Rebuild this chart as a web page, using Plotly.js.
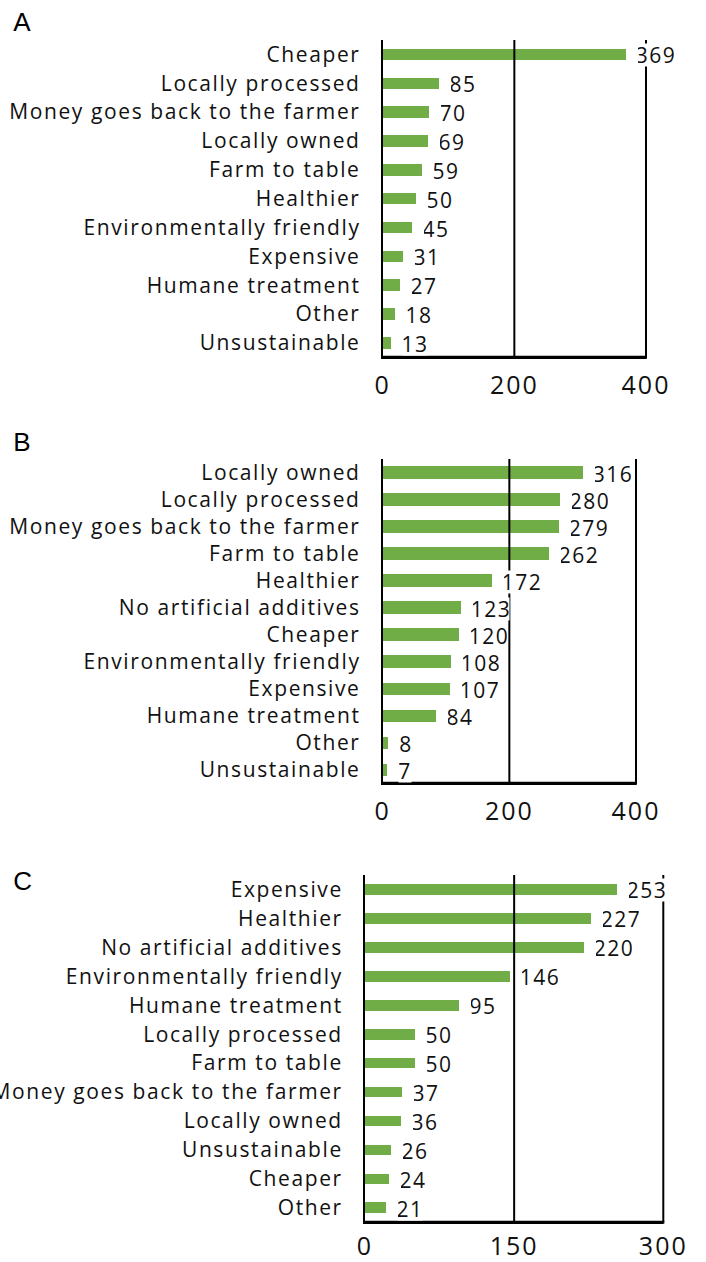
<!DOCTYPE html>
<html>
<head>
<meta charset="utf-8">
<script src="https://cdn.plot.ly/plotly-3.0.1.min.js"></script>
<style>
  html, body { margin: 0; padding: 0; background: #fff; }
  #chart { width: 706px; height: 1262px; }
  #chart .ytick text, #chart .y2tick text, #chart .y3tick text { letter-spacing: 1.6px; }
  #chart .xtick text, #chart .x2tick text, #chart .x3tick text { letter-spacing: 2px; }
  #chart .annotation-text { letter-spacing: 1.5px; }
</style>
</head>
<body>
<div id="chart"></div>
<script>
// ---- Data ----
const catsA = ["Cheaper", "Locally processed", "Money goes back to the farmer", "Locally owned", "Farm to table", "Healthier", "Environmentally friendly", "Expensive", "Humane treatment", "Other", "Unsustainable"];
const valsA = [369, 85, 70, 69, 59, 50, 45, 31, 27, 18, 13];

const catsB = ["Locally owned", "Locally processed", "Money goes back to the farmer", "Farm to table", "Healthier", "No artificial additives", "Cheaper", "Environmentally friendly", "Expensive", "Humane treatment", "Other", "Unsustainable"];
const valsB = [316, 280, 279, 262, 172, 123, 120, 108, 107, 84, 8, 7];

const catsC = ["Expensive", "Healthier", "No artificial additives", "Environmentally friendly", "Humane treatment", "Locally processed", "Farm to table", "Money goes back to the farmer", "Locally owned", "Unsustainable", "Cheaper", "Other"];
const valsC = [253, 227, 220, 146, 95, 50, 50, 37, 36, 26, 24, 21];

const ticksA = [0, 200, 400];
const ticksB = [0, 200, 400];
const ticksC = [0, 150, 300];

const panelLetters = ["A", "B", "C"];

// ---- Layout geometry (pixels on a 706x1262 page) ----
const W = 706, H = 1262;
const panels = [
  { cats: catsA, vals: valsA, ticks: ticksA, x0: 382.7, x1: 646.0, top: 40.0, bottom: 357.3, bw: 0.40, letterY: 12, tl: 5 },
  { cats: catsB, vals: valsB, ticks: ticksB, x0: 382.7, x1: 636.0, top: 459.0, bottom: 783.3, bw: 0.46, letterY: 432, tl: 5 },
  { cats: catsC, vals: valsC, ticks: ticksC, x0: 365.0, x1: 663.3, top: 875.0, bottom: 1222.3, bw: 0.37, letterY: 871, tl: 1 }
];

const GREEN = "#70AD47";
const FONT = "Open Sans, Lato, sans-serif";

const data = [];
const layout = {
  width: W, height: H,
  margin: { l: 0, r: 0, t: 0, b: 0 },
  paper_bgcolor: "#fff", plot_bgcolor: "#fff",
  showlegend: false,
  bargap: 0,
  annotations: [],
  shapes: [],
  font: { family: FONT, color: "#111" }
};

panels.forEach((p, i) => {
  const n = i + 1;
  const xa = n === 1 ? "x" : "x" + n;
  const ya = n === 1 ? "y" : "y" + n;
  const xk = n === 1 ? "xaxis" : "xaxis" + n;
  const yk = n === 1 ? "yaxis" : "yaxis" + n;

  const px0 = p.x0 / W, px1 = p.x1 / W;
  const py0 = 1 - p.bottom / H, py1 = 1 - p.top / H;
  const xmax = p.ticks[p.ticks.length - 1];

  data.push({
    type: "bar", orientation: "h",
    x: p.vals, y: p.cats,
    xaxis: xa, yaxis: ya,
    width: p.bw,
    marker: { color: GREEN, line: { width: 0 } },
    hoverinfo: "x+y"
  });

  layout[xk] = {
    domain: [px0, px1],
    anchor: ya,
    range: [0, xmax],
    tickmode: "array", tickvals: p.ticks, ticktext: p.ticks.map(String),
    showgrid: false, zeroline: false,
    showline: true, linecolor: "#000", linewidth: 2,
    ticks: "outside", ticklen: p.tl, tickcolor: "rgba(0,0,0,0)",
    tickfont: { family: FONT, size: 25, color: "#111" },
    fixedrange: true
  };
  layout[yk] = {
    domain: [py0, py1],
    anchor: xa,
    type: "category",
    categoryorder: "array", categoryarray: p.cats,
    range: [p.cats.length - 0.5, -0.5],
    showgrid: false, zeroline: false,
    showline: true, linecolor: "#000", linewidth: 2,
    ticks: "outside", ticklen: 16, tickcolor: "rgba(0,0,0,0)",
    tickfont: { family: FONT, size: 21, color: "#111" },
    fixedrange: true
  };

  // value labels with white backgrounds (cover the reference lines)
  p.cats.forEach((c, k) => {
    layout.annotations.push({
      xref: xa, yref: ya,
      x: p.vals[k], y: c,
      text: String(p.vals[k]),
      showarrow: false,
      xanchor: "left", yanchor: "middle",
      xshift: 11, yshift: -1,
      height: 22,
      bgcolor: "#fff", borderpad: 0,
      font: { family: FONT, size: 21, color: "#111" }
    });
  });

  // vertical reference lines at the non-zero tick values (paper coords derived from tick values)
  p.ticks.filter(t => t !== 0).forEach(t => {
    const xp = px0 + (t / xmax) * (px1 - px0);
    layout.shapes.push({
      type: "line", layer: "above",
      xref: "paper", yref: "paper",
      x0: xp, x1: xp, y0: py0, y1: py1,
      line: { color: "#000", width: 2 }
    });
  });
  // bottom frame line (slightly heavier, as in the reference)
  layout.shapes.push({
    type: "line", layer: "above",
    xref: "paper", yref: "paper",
    x0: px0 - 1 / W, x1: px1 + 1 / W, y0: py0, y1: py0,
    line: { color: "#000", width: 3 }
  });

  // panel letter
  layout.annotations.push({
    xref: "paper", yref: "paper",
    x: 12 / W, y: 1 - (p.letterY - 7) / H,
    xanchor: "left", yanchor: "top",
    text: panelLetters[i],
    showarrow: false,
    font: { family: "Liberation Sans, Arial, sans-serif", size: 26, color: "#000" }
  });
});

Plotly.newPlot("chart", data, layout, { displayModeBar: false, staticPlot: true });
</script>
</body>
</html>
